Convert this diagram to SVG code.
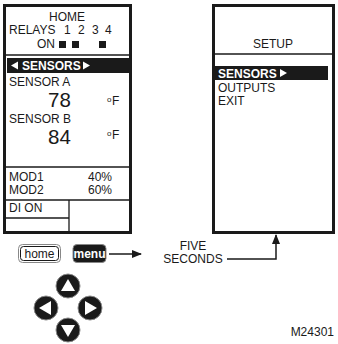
<svg xmlns="http://www.w3.org/2000/svg" width="338" height="344" viewBox="0 0 338 344">
<style>
text{font-family:"Liberation Sans",Arial,sans-serif;fill:#1a1a1a;font-size:12px}
.w{fill:#fff;font-weight:bold}
.big{font-size:20.5px}
.sm{font-size:8px}
.panel{fill:#fff;stroke:#1a1a1a;stroke-width:3}
.ln{stroke:#1a1a1a;stroke-width:1.3;fill:none}
.cn{stroke:#1a1a1a;stroke-width:1.5;fill:none}
.btn{fill:#1a1a1a;stroke:#888;stroke-width:1}
</style>
<defs>
<marker id="ah" markerWidth="10" markerHeight="8" refX="9" refY="4" orient="auto" markerUnits="userSpaceOnUse">
<path d="M0,0 L10,4 L0,8 z" fill="#1a1a1a"/>
</marker>
</defs>
<g id="home-screen">
<rect class="panel" x="4.5" y="5.5" width="126" height="227"/>
<text x="67" y="21" text-anchor="middle">HOME</text>
<text x="9" y="34">RELAYS</text>
<text x="64" y="34">1</text>
<text x="78" y="34">2</text>
<text x="92" y="34">3</text>
<text x="105" y="34">4</text>
<text x="37" y="48">ON</text>
<rect x="59" y="41" width="7" height="7" fill="#1a1a1a"/>
<rect x="72" y="41" width="7" height="7" fill="#1a1a1a"/>
<rect x="99" y="41" width="7" height="7" fill="#1a1a1a"/>
<line class="ln" x1="6" y1="55" x2="129" y2="55"/>
<rect x="7" y="58" width="122" height="15" fill="#1a1a1a"/>
<polygon points="11,65.5 18,61.5 18,69.5" fill="#fff"/>
<text class="w" x="22" y="70">SENSORS</text>
<polygon points="83,61.5 90,65.5 83,69.5" fill="#fff"/>
<text x="9" y="85.5">SENSOR A</text>
<text class="big" x="48" y="107">78</text>
<text class="sm" x="107" y="102">o</text><text x="112" y="105">F</text>
<text x="9" y="122.5">SENSOR B</text>
<text class="big" x="48" y="143.5">84</text>
<text class="sm" x="107" y="136">o</text><text x="112" y="139">F</text>
<line class="ln" x1="6" y1="167" x2="129" y2="167"/>
<text x="9" y="181">MOD1</text>
<text x="88" y="181">40%</text>
<text x="9" y="194">MOD2</text>
<text x="88" y="194">60%</text>
<line class="ln" x1="6" y1="200" x2="129" y2="200"/>
<text x="9" y="212">DI ON</text>
<line class="ln" x1="6" y1="218" x2="69" y2="218"/>
<line class="ln" x1="69" y1="200" x2="69" y2="231"/>
</g>
<g id="setup-screen">
<rect class="panel" x="213.5" y="5.5" width="120" height="227"/>
<text x="273" y="48" text-anchor="middle">SETUP</text>
<line class="ln" x1="215" y1="54" x2="332" y2="54"/>
<rect x="215" y="66" width="113" height="14" fill="#1a1a1a"/>
<text class="w" x="218" y="77.5">SENSORS</text>
<polygon points="280,69 287,73 280,77" fill="#fff"/>
<text x="218" y="92">OUTPUTS</text>
<text x="218" y="105">EXIT</text>
</g>
<g id="home-btn">
<rect x="18.5" y="244.5" width="42" height="18" rx="4" fill="#fff" stroke="#888" stroke-width="1"/>
<rect x="20.5" y="246.5" width="38" height="14" rx="3" fill="#fff" stroke="#1a1a1a" stroke-width="1"/>
<text x="39.5" y="257.5" text-anchor="middle">home</text>
</g>
<g id="menu-btn">
<rect x="73" y="244.5" width="33" height="18" rx="4" class="btn"/>
<text class="w" x="89.5" y="257.5" text-anchor="middle">menu</text>
</g>
<g id="nav-up">
<circle cx="68" cy="286" r="12" class="btn"/>
<polygon points="68,279 75,291 61,291" fill="#fff"/>
</g>
<g id="nav-left">
<circle cx="46" cy="308" r="12" class="btn"/>
<polygon points="39,308 51,301 51,315" fill="#fff"/>
</g>
<g id="nav-right">
<circle cx="90" cy="308" r="12" class="btn"/>
<polygon points="97,308 85,301 85,315" fill="#fff"/>
</g>
<g id="nav-down">
<circle cx="68" cy="330" r="12" class="btn"/>
<polygon points="68,337 75,325 61,325" fill="#fff"/>
</g>
<g id="label">
<text x="193" y="250" text-anchor="middle">FIVE</text>
<text x="193" y="263" text-anchor="middle">SECONDS</text>
<text x="334" y="336" text-anchor="end" font-size="10">M24301</text>
</g>
<g id="connectors">
<line class="cn" x1="109" y1="254" x2="141" y2="254" marker-end="url(#ah)"/>
<polyline class="cn" points="227,259 276,259 276,235" marker-end="url(#ah)"/>
</g>
</svg>
